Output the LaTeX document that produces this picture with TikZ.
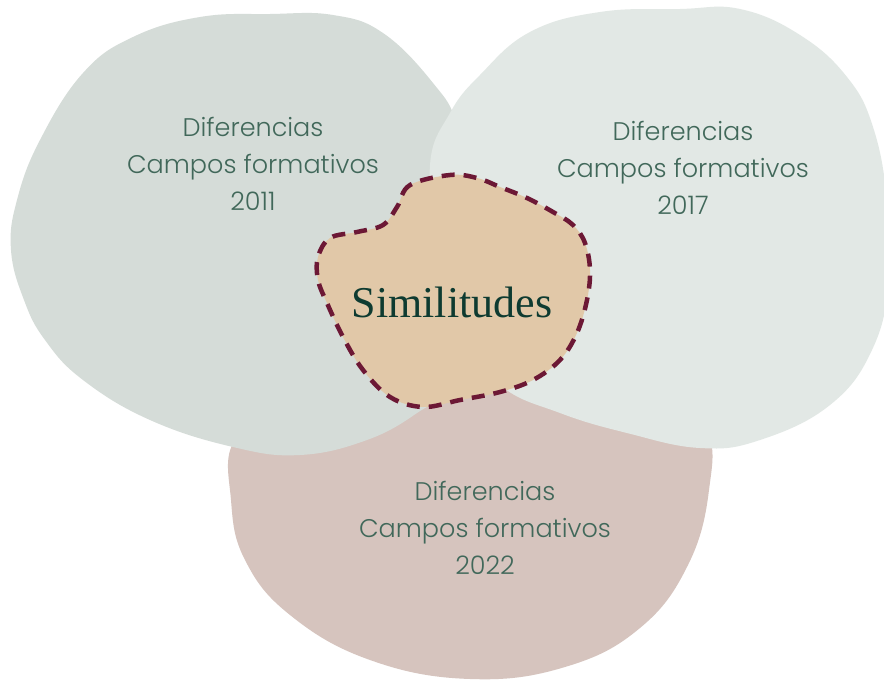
\documentclass[tikz,border=0pt]{standalone}
\usepackage{fontspec}
\newfontfamily\hand{Poppins}[UprightFont=* Light]
\newfontfamily\simfont{Liberation Serif}
\definecolor{leftc}{HTML}{D5DCD8}
\definecolor{rightc}{HTML}{E2E8E5}
\definecolor{pinkc}{HTML}{D6C4BE}
\definecolor{centc}{HTML}{E1C8A8}
\definecolor{dashc}{HTML}{6C1835}
\definecolor{txtc}{HTML}{41685A}
\definecolor{simc}{HTML}{0E3B31}
\tikzset{
  lbl/.style={text=txtc, align=center, font=\hand\fontsize{25.5}{37}\selectfont},
  simlbl/.style={text=simc, font=\simfont\fontsize{44}{48}\selectfont}
}
\begin{document}
\begin{tikzpicture}[x=1pt,y=-1pt]
\fill[white] (0,0) rectangle (884,680);
\clip (0,0) rectangle (884,680);
% bottom blob
\fill[pinkc] plot[smooth cycle, tension=0.7] coordinates {(235,440) (231,500) (245,560) (290,615) (370,660) (470,679) (565,667) (640,628) (688,565) (709,490) (705,430) (650,405) (560,390) (470,382) (380,392) (290,412)};
% left blob
\fill[leftc] plot[smooth cycle, tension=0.7] coordinates {(24,300) (11,250) (17,200) (40,140) (83,73) (133,37) (200,17) (270,14) (333,15) (383,33) (433,83) (457,125) (470,200) (462,320) (440,390) (417,413) (367,440) (300,455) (233,447) (150,420) (83,380) (45,340)};
% right blob
\fill[rightc] plot[smooth cycle, tension=0.7] coordinates {(430,165) (450,113) (480,75) (530,32) (600,12) (680,9) (740,9) (800,35) (847,77) (873,127) (887,200) (889,280) (872,350) (830,405) (760,440) (700,448) (627,433) (560,413) (500,385) (460,330) (440,250)};
% center blob
\filldraw[fill=centc, draw=dashc, line width=4.5pt, dash pattern=on 13pt off 9pt] plot[smooth cycle, tension=0.6] coordinates {(450,175) (410,185) (397,207) (383,225) (357,232) (330,238) (318,257) (318,280) (327,303) (343,337) (363,370) (390,397) (423,407) (460,400) (500,392) (533,380) (560,360) (577,333) (587,300) (590,270) (585,243) (573,225) (553,212) (527,198) (500,187) (477,178)};
\node[lbl] (t2011) at (253,164) {Diferencias\\Campos formativos\\2011};
\node[lbl] (t2017) at (683,168) {Diferencias\\Campos formativos\\2017};
\node[lbl] (t2022) at (485,528) {Diferencias\\Campos formativos\\2022};
\node[simlbl] (sim) at (452,302) {Similitudes};
\end{tikzpicture}
\end{document}
